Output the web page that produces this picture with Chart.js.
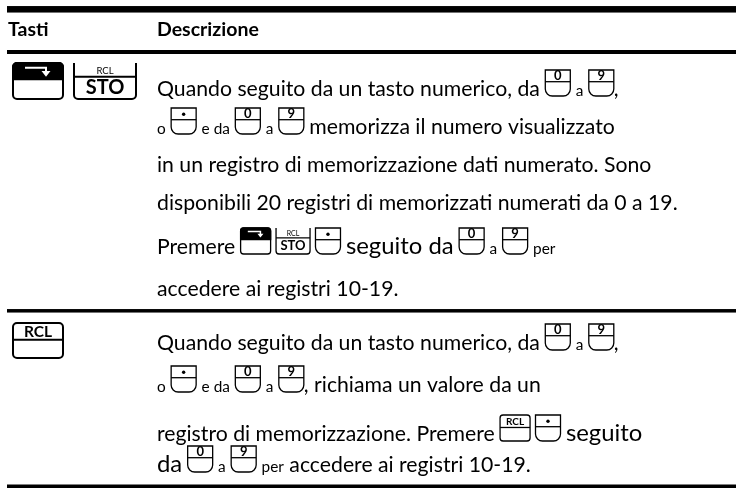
<!DOCTYPE html>
<html>
<head>
<meta charset="utf-8">
<script src="https://cdn.jsdelivr.net/npm/chart.js@4"></script>
<style>
  html, body { margin: 0; padding: 0; background: #fff; }
  canvas { display: block; }
</style>
</head>
<body>
<canvas id="keysTable" width="736" height="488"></canvas>
<script>
// table content: [x] = key icon, ~x~ = small text, ^x^ = larger text
const headers = ["Tasti", "Descrizione"];
const row1Keys = ["SHIFT", "STO"];
const row1Lines = [
  "Quando seguito da un tasto numerico, da [0] ~a~ [9],",
  "~o~ [.] ~e da~ [0] ~a~ [9] memorizza il numero visualizzato",
  "in un registro di memorizzazione dati numerato. Sono",
  "disponibili 20 registri di memorizzati numerati da 0 a 19.",
  "Premere [SHIFT] [STO] [.] ^seguito da^ [0] ~a~ [9] ~per~",
  "accedere ai registri 10-19.",
];
const row2Keys = ["RCL"];
const row2Lines = [
  "Quando seguito da un tasto numerico, da [0] ~a~ [9],",
  "~o~ [.] ~e da~ [0] ~a~ [9], richiama un valore da un",
  "registro di memorizzazione. Premere [RCL] [.] ^seguito^",
  "^da^ [0] ~a~ [9] ~per~ accedere ai registri 10-19.",
];

const FONT = "Lato, 'Noto Sans', sans-serif";
const SIZE = { n: 20, s: 14.5, b: 22.5 };
const LINE4_WIDTH = 521; // measured span of the longest plain line

// layout (value units of the scales, 1 unit = 1 px)
const RULE_X0 = 7;
const KEY_X = 13;
const TEXT_X = 157;
const rules = [
  { y: 9.3, w: 6.5 },
  { y: 52, w: 4 },
  { y: 310.8, w: 3.5 },
  { y: 486.5, w: 4 },
];
const HEAD_BASE = 36;
const ROW1_KEY_TOP = 63;
const ROW2_KEY_TOP = 323;
const row1Base = [96, 134, 172, 210, 254, 296];
const row2Base = [350, 392, 441, 472];

function keyPath(ctx, x, top, w, h, rt, rb, openTop) {
  ctx.beginPath();
  if (openTop) {
    ctx.moveTo(x, top);
  } else {
    ctx.moveTo(x + w - rt, top);
    ctx.arcTo(x, top, x, top + h, rt);
  }
  ctx.arcTo(x, top + h, x + w, top + h, rb);
  ctx.arcTo(x + w, top + h, x + w, top, rb);
  if (openTop) {
    ctx.lineTo(x + w, top);
  } else {
    ctx.arcTo(x + w, top, x, top, rt);
    ctx.closePath();
  }
}

function drawKey(ctx, name, x, top, big) {
  ctx.save();
  ctx.strokeStyle = "#000";
  ctx.fillStyle = "#000";
  ctx.lineWidth = big ? 2 : 1.3;
  ctx.textAlign = "center";
  ctx.textBaseline = "alphabetic";
  let w, h;
  if (name === "SHIFT") {
    w = big ? 50 : 30; h = big ? 36 : 26;
    const r = big ? 4 : 3;
    const split = top + h * 0.45;
    keyPath(ctx, x, top, w, h, r, r, false);
    ctx.stroke();
    ctx.beginPath();
    ctx.moveTo(x, split);
    ctx.lineTo(x, top + r);
    ctx.arcTo(x, top, x + w, top, r);
    ctx.arcTo(x + w, top, x + w, split, r);
    ctx.lineTo(x + w, split);
    ctx.closePath();
    ctx.fill();
    ctx.stroke();
    // white arrow
    ctx.strokeStyle = "#fff";
    ctx.fillStyle = "#fff";
    ctx.lineWidth = big ? 2 : 1.5;
    const ax = x + w * 0.66, ay = top + h * 0.13;
    ctx.beginPath();
    ctx.moveTo(x + w * 0.24, ay);
    ctx.lineTo(ax, ay);
    ctx.lineTo(ax, top + h * 0.24);
    ctx.stroke();
    const s = big ? 4.5 : 3;
    ctx.beginPath();
    ctx.moveTo(ax - s, top + h * 0.22);
    ctx.lineTo(ax + s, top + h * 0.22);
    ctx.lineTo(ax, top + h * 0.22 + s * 1.3);
    ctx.closePath();
    ctx.fill();
  } else if (name === "STO") {
    w = big ? 62 : 34; h = big ? 36 : 26;
    const split = top + h * 0.38;
    keyPath(ctx, x, top, w, h, 0, big ? 4 : 3, true);
    ctx.stroke();
    ctx.beginPath();
    ctx.moveTo(x, split);
    ctx.lineTo(x + w, split);
    ctx.stroke();
    ctx.font = (big ? 9.5 : 7) + "px " + FONT;
    ctx.fillText("RCL", x + w / 2, split - (big ? 3 : 2));
    ctx.font = (big ? "bold 20px " : "bold 13px ") + FONT;
    ctx.fillText("STO", x + w / 2, top + h - (big ? 5 : 4));
  } else if (name === "RCL") {
    w = big ? 50 : 30; h = big ? 35 : 26;
    const r = big ? 4 : 3;
    const split = top + h * 0.48;
    keyPath(ctx, x, top, w, h, r, r, false);
    ctx.stroke();
    ctx.beginPath();
    ctx.moveTo(x, split);
    ctx.lineTo(x + w, split);
    ctx.stroke();
    ctx.font = (big ? "bold 15.5px " : "bold 10px ") + FONT;
    ctx.fillText("RCL", x + w / 2, split - (big ? 3 : 2));
  } else {
    // number / point key: box top, cup bottom
    w = 25; h = 26;
    const split = top + h * 0.45;
    keyPath(ctx, x, top, w, h, 0, 7, false);
    ctx.stroke();
    ctx.beginPath();
    ctx.moveTo(x, split);
    ctx.lineTo(x + w, split);
    ctx.stroke();
    ctx.font = "bold 13px " + FONT;
    if (name === ".") {
      ctx.beginPath();
      ctx.arc(x + w / 2, top + h * 0.24, 1.7, 0, Math.PI * 2);
      ctx.fill();
    } else {
      ctx.fillText(name, x + w / 2, split - 1.5);
    }
  }
  ctx.restore();
  return w;
}

function drawLine(ctx, str, x, base, k) {
  const re = /\[(.*?)\]|~(.*?)~|\^(.*?)\^|([^\[~^]+)/g;
  let m;
  ctx.fillStyle = "#000";
  ctx.textAlign = "left";
  ctx.textBaseline = "alphabetic";
  while ((m = re.exec(str))) {
    if (m[1] !== undefined) {
      x += drawKey(ctx, m[1], x, base - 26, false);
      continue;
    }
    const txt = m[2] !== undefined ? m[2] : m[3] !== undefined ? m[3] : m[4];
    const size = m[2] !== undefined ? SIZE.s : m[3] !== undefined ? SIZE.b : SIZE.n;
    ctx.font = (size * k).toFixed(2) + "px " + FONT;
    ctx.fillText(txt, x, base);
    x += ctx.measureText(txt).width;
  }
}

const tablePlugin = {
  id: "tablePlugin",
  afterDraw(chart) {
    const ctx = chart.ctx;
    const xs = chart.scales.x, ys = chart.scales.y;
    const px = (v) => xs.getPixelForValue(v);
    const py = (v) => ys.getPixelForValue(v);
    ctx.save();
    // scale the body font so the plain line spans the measured width
    ctx.font = SIZE.n + "px " + FONT;
    const k = LINE4_WIDTH / ctx.measureText(row1Lines[3]).width;

    rules.forEach((r) => {
      ctx.fillStyle = "#000";
      ctx.fillRect(px(RULE_X0), py(r.y - r.w / 2), px(736) - px(RULE_X0), r.w);
    });
    ctx.fillStyle = "#000";
    ctx.font = "bold 19.5px " + FONT;
    ctx.fillText(headers[0], px(8), py(HEAD_BASE));
    ctx.fillText(headers[1], px(TEXT_X), py(HEAD_BASE));

    let kx = px(KEY_X);
    row1Keys.forEach((key) => { kx += drawKey(ctx, key, kx, py(ROW1_KEY_TOP), true) + 11; });
    kx = px(KEY_X);
    row2Keys.forEach((key) => { kx += drawKey(ctx, key, kx, py(ROW2_KEY_TOP), true) + 11; });

    row1Lines.forEach((l, i) => drawLine(ctx, l, px(TEXT_X), py(row1Base[i]), k));
    row2Lines.forEach((l, i) => drawLine(ctx, l, px(TEXT_X), py(row2Base[i]), k));
    ctx.restore();
  },
};

new Chart(document.getElementById("keysTable").getContext("2d"), {
  type: "scatter",
  data: { datasets: [] },
  options: {
    responsive: false,
    animation: false,
    devicePixelRatio: 1,
    layout: { padding: 0 },
    plugins: { legend: { display: false }, tooltip: { enabled: false } },
    scales: {
      x: { type: "linear", min: 0, max: 736, display: false },
      y: { type: "linear", min: 0, max: 488, reverse: true, display: false },
    },
  },
  plugins: [tablePlugin],
});
</script>
</body>
</html>
